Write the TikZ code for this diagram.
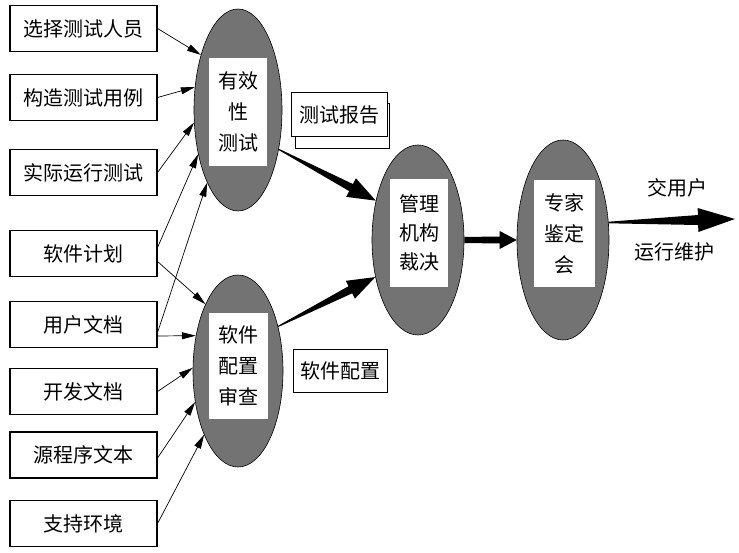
\documentclass[tikz,border=0pt]{standalone}
\usepackage{fontspec}
\newfontfamily\cjk{Noto Sans CJK SC}
\usetikzlibrary{arrows.meta,calc,shapes.geometric}
\newcommand\fatarrow[6]{%
  \path ($(#2)!#5!(#1)$) coordinate (fah);
  \fill ($(#1)!#3!90:(#2)$) -- ($(fah)!#4!90:(#2)$) -- ($(fah)!#6!90:(#2)$) -- (#2)
        -- ($(fah)!#6!-90:(#2)$) -- ($(fah)!#4!-90:(#2)$) -- ($(#1)!#3!-90:(#2)$) -- cycle;}
\tikzset{
  cjkfont/.style={font=\cjk\fontsize{20}{24}\selectfont},
  lbox/.style={draw, line width=1.1pt, minimum width=147pt, minimum height=46pt, inner sep=0pt, cjkfont},
  ell/.style={ellipse, draw, line width=0.6pt, fill=black!55, inner sep=0pt},
  inbox/.style={fill=white, inner sep=0pt, align=center, font=\cjk\fontsize{20}{31}\selectfont},
  conn/.style={line width=0.7pt, -{Triangle[length=14pt,width=7pt]}},
  tag/.style={draw, line width=1pt, fill=white, inner sep=0pt, cjkfont},
  txt/.style={inner sep=0pt, cjkfont}
}
\begin{document}
\begin{tikzpicture}[x=1pt,y=-1pt]
\useasboundingbox (0,0) rectangle (739,553);
% left boxes
\node[lbox] (b1) at (83.5,28.5) {选择测试人员};
\node[lbox] (b2) at (83.5,97.5) {构造测试用例};
\node[lbox] (b3) at (83.5,172.5) {实际运行测试};
\node[lbox] (b4) at (83.5,253.5) {软件计划};
\node[lbox] (b5) at (83.5,324.5) {用户文档};
\node[lbox] (b6) at (83.5,391.5) {开发文档};
\node[lbox] (b7) at (83.5,455) {源程序文本};
\node[lbox] (b8) at (83.5,523.5) {支持环境};
% ellipses
\node[ell, minimum width=88pt, minimum height=202pt] (e1) at (238,110) {};
\node[ell, minimum width=90pt, minimum height=192pt] (e2) at (238,371) {};
\node[ell, minimum width=92pt, minimum height=190pt] (e3) at (418,240) {};
\node[ell, minimum width=92pt, minimum height=200pt] (e4) at (563,240) {};
\node[inbox, minimum width=58pt, minimum height=108pt] (i1) at (238,112) {有效\\性\\测试};
\node[inbox, minimum width=59pt, minimum height=106pt] (i2) at (238.5,366) {软件\\配置\\审查};
\node[inbox, minimum width=58pt, minimum height=108pt, font=\cjk\fontsize{20}{29}\selectfont] (i3) at (419,233) {管理\\机构\\裁决};
\node[inbox, minimum width=61pt, minimum height=107pt] (i4) at (564.5,233.5) {专家\\鉴定\\会};
% tags
\node[draw, line width=0.8pt, minimum width=94pt, minimum height=45pt, inner sep=0pt] (t1s) at (342,125.5) {};
\node[tag, minimum width=96pt, minimum height=44pt] (t1) at (339,115) {测试报告};
\node[tag, minimum width=94pt, minimum height=43pt] (t2) at (340,370.5) {软件配置};
\node[txt] (l1) at (677,188) {交用户};
\node[txt] (l2) at (674,252) {运行维护};
% thin connectors
\draw[conn] (b1.east) -- (e1.124);
\draw[conn] (b2.east) -- (e1.152);
\draw[conn] (b3.east) -- (e1.196);
\draw[conn] ([yshift=6pt]b4.east) -- (e1.228);
\draw[conn] ([yshift=-8pt]b4.east) -- (e2.116);
\draw[conn] ([yshift=-8pt]b5.east) -- (e1.247);
\draw[conn] ([yshift=-11.5pt]b5.east) -- (e2.140);
\draw[conn] (b6.east) -- (e2.176);
\draw[conn] ([yshift=-3pt]b7.east) -- (e2.216);
\draw[conn] (b8.east) -- (e2.242);
% fat arrows
\coordinate (out) at (735,219);
\fatarrow{e1.316}{e3.137}{0.6pt}{4pt}{28pt}{10.5pt}
\fatarrow{e2.48}{e3.221}{0.6pt}{4pt}{28pt}{10pt}
\fatarrow{e3.east}{e4.west}{3pt}{3.5pt}{17pt}{9pt}
\fatarrow{e4.21}{out}{0.8pt}{5pt}{37pt}{12pt}
\end{tikzpicture}
\end{document}
